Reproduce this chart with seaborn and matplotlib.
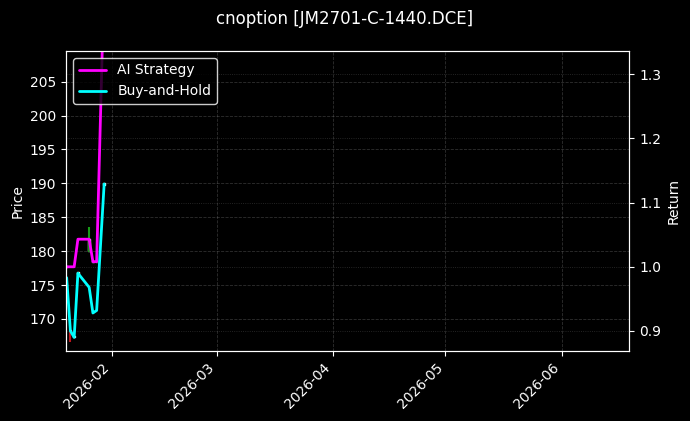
import matplotlib
matplotlib.use("Agg")
import matplotlib.pyplot as plt
import matplotlib.dates as mdates
import seaborn as sns
import pandas as pd
import numpy as np

# ---- data ----
dates = ["2026-01-20", "2026-01-21", "2026-01-22", "2026-01-23",
         "2026-01-26", "2026-01-27", "2026-01-28", "2026-01-30"]
ai_strategy = [1.000, 1.000, 1.000, 1.043, 1.043, 1.008, 1.008, 1.45]
buy_and_hold = [0.983, 0.900, 0.890, 0.990, 0.968, 0.928, 0.932, 1.129]
price_open = [177.6, 168.4, 167.5, 176.7, 180.0, 178.4, 178.4, 189.8]
price_close = [177.8, 168.1, 167.3, 176.9, 181.8, 178.5, 178.5, 190.0]
price_high = [177.8, 168.5, 167.6, 177.0, 183.6, 178.6, 178.6, 190.1]
price_low = [177.6, 166.6, 167.2, 176.6, 179.9, 178.3, 178.3, 189.7]
title = "cnoption [JM2701-C-1440.DCE]"

df = pd.DataFrame({
    "date": pd.to_datetime(dates),
    "ai": ai_strategy,
    "bh": buy_and_hold,
    "open": price_open,
    "close": price_close,
    "high": price_high,
    "low": price_low,
})

plt.style.use("dark_background")
sns.set_style("dark", {"axes.facecolor": "black", "figure.facecolor": "black",
                       "axes.edgecolor": "white", "text.color": "white",
                       "axes.labelcolor": "white", "xtick.color": "white",
                       "ytick.color": "white", "grid.color": "#888888"})
plt.rcParams["font.family"] = ["DejaVu Sans"]

fig, ax1 = plt.subplots(figsize=(6.9, 4.21), dpi=100)
fig.patch.set_facecolor("black")
ax1.set_facecolor("black")
fig.subplots_adjust(left=0.0957, right=0.9122, top=0.8789, bottom=0.1663)

# candlesticks on price axis
up = df["close"] >= df["open"]
colors = np.where(up, "#179a17", "#c0141c")
ax1.vlines(df["date"], df["low"], df["high"], colors=colors, linewidth=1.5)
ax1.bar(df["date"], (df["close"] - df["open"]).abs().clip(lower=0.05),
        bottom=np.minimum(df["open"], df["close"]), width=0.4, color=colors)
ax1.set_ylim(165.28, 209.53)
ax1.set_ylabel("Price", color="white", fontsize=10)
ax1.grid(True, linestyle="--", linewidth=0.6, alpha=0.35, color="#888888")

ax2 = ax1.twinx()
sns.lineplot(data=df, x="date", y="ai", ax=ax2, color="#ff00ff", linewidth=2,
             label="AI Strategy")
sns.lineplot(data=df, x="date", y="bh", ax=ax2, color="#00ffff", linewidth=2,
             label="Buy-and-Hold")
ax2.set_ylim(0.8688, 1.3363)
ax2.set_ylabel("Return", color="white", fontsize=10)
ax2.set_xlabel("")
ax2.grid(True, linestyle=":", linewidth=0.6, alpha=0.35, color="#888888")
leg = ax2.legend(loc="upper left", fontsize=10, frameon=True,
                 facecolor="black", edgecolor="white", framealpha=0.8)
for t in leg.get_texts():
    t.set_color("white")

ax1.set_xlim(pd.Timestamp("2026-01-19 20:00"), pd.Timestamp("2026-06-19 02:00"))
ax1.xaxis.set_major_locator(mdates.MonthLocator())
ax1.xaxis.set_major_formatter(mdates.DateFormatter("%Y-%m"))
ax1.set_xlabel("")
plt.setp(ax1.get_xticklabels(), rotation=45, ha="right")
for ax in (ax1, ax2):
    ax.tick_params(colors="white", labelsize=10, length=3.5)
    for s in ax.spines.values():
        s.set_color("white")
ax2.tick_params(axis="y", right=True)
ax1.tick_params(axis="x", bottom=True)
ax1.tick_params(axis="y", left=True)

fig.suptitle(title, color="white", fontsize=12, y=0.977)
fig.savefig("out.png", dpi=100, facecolor="black")
